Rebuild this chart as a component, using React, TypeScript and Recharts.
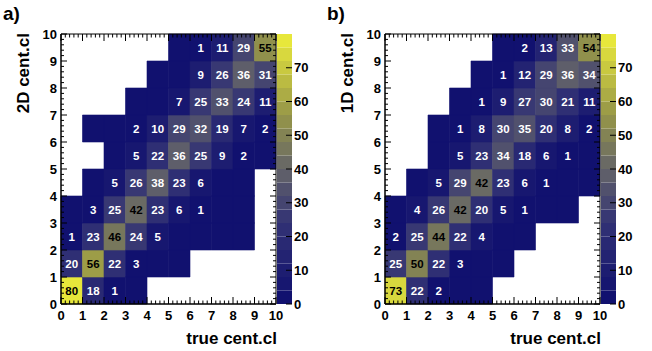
import React from 'react';
import { ScatterChart, Scatter, XAxis, YAxis, ReferenceArea, BarChart, Bar } from 'recharts';

// bin edges of both axes (centrality classes 0..10)
const centBins = [0, 1, 2, 3, 4, 5, 6, 7, 8, 9];
const axisLabels = [0, 1, 2, 3, 4, 5, 6, 7, 8, 9, 10];
const colorTicks = [0, 10, 20, 30, 40, 50, 60, 70];
const Z_MAX = 80;
const N_CONTOURS = 20;

// rows = reconstructed class (bottom to top), columns = true class.
// null = empty bin, 0 = filled bin whose content rounds to 0 (no text drawn)
const counts2D: (number | null)[][] = [
  [80, 18, 1, 0, null, null, null, null, null, null],
  [20, 56, 22, 3, 0, 0, null, null, null, null],
  [1, 23, 46, 24, 5, 0, 0, 0, 0, null],
  [0, 3, 25, 42, 23, 6, 1, 0, 0, null],
  [null, 0, 5, 26, 38, 23, 6, 0, 0, null],
  [null, null, 0, 5, 22, 36, 25, 9, 2, 0],
  [null, 0, 0, 2, 10, 29, 32, 19, 7, 2],
  [null, null, null, 0, 0, 7, 25, 33, 24, 11],
  [null, null, null, null, 0, 0, 9, 26, 36, 31],
  [null, null, null, null, null, 0, 1, 11, 29, 55],
];

const counts1D: (number | null)[][] = [
  [73, 22, 2, 0, 0, null, null, null, null, null],
  [25, 50, 22, 3, 0, 0, null, null, null, null],
  [2, 25, 44, 22, 4, 0, 0, null, null, null],
  [0, 4, 26, 42, 20, 5, 1, 0, 0, null],
  [null, 0, 5, 29, 42, 23, 6, 1, 0, 0],
  [null, null, 0, 5, 23, 34, 18, 6, 1, 0],
  [null, null, 0, 1, 8, 30, 35, 20, 8, 2],
  [null, null, null, 0, 1, 9, 27, 30, 21, 11],
  [null, null, null, null, 0, 1, 12, 29, 36, 34],
  [null, null, null, null, null, 0, 2, 13, 33, 54],
];

const FONT = '"Liberation Sans", Arial, Helvetica, sans-serif';
const PLOT_LEFT = 61;
const PLOT_TOP = 34;
const PLOT_W = 215;
const PLOT_H = 270;
const BAR_LEFT = PLOT_LEFT + PLOT_W + 1;
const CHART_W = BAR_LEFT + 14; // room for the "10" tick label
const CHART_H = 351;
const BAR_W = 15;

// navy -> grey -> yellow
const stops = [
  [0.0, 14, 14, 110],
  [0.3, 50, 50, 116],
  [0.5, 100, 100, 104],
  [0.7, 150, 150, 72],
  [1.0, 238, 238, 58],
];

function paletteAt(t: number) {
  for (let k = 1; k < stops.length; k++) {
    if (t <= stops[k][0]) {
      const a = stops[k - 1];
      const b = stops[k];
      const f = (t - a[0]) / (b[0] - a[0]);
      const c = [1, 2, 3].map((i) => Math.round(a[i] + f * (b[i] - a[i])));
      return `rgb(${c[0]},${c[1]},${c[2]})`;
    }
  }
  return 'rgb(238,238,58)';
}

function zColor(v: number) {
  const band = Math.min(N_CONTOURS - 1, Math.floor((v / Z_MAX) * N_CONTOURS));
  return paletteAt((band + 0.5) / N_CONTOURS);
}

const minorTicks = Array.from({ length: 51 }, (_, k) => k / 5);

function isMajor(v: number) {
  return Math.abs(v - Math.round(v)) < 1e-6;
}

function XTick(props: any) {
  const { x, y, payload } = props;
  const v = payload.value;
  const len = isMajor(v) ? 7 : 3.5;
  return (
    <g>
      <line x1={x} y1={y} x2={x} y2={y - len} stroke="#000" />
      <line x1={x} y1={PLOT_TOP} x2={x} y2={PLOT_TOP + len} stroke="#000" />
      {isMajor(v) && axisLabels.includes(Math.round(v)) && (
        <text x={x} y={y + 16} textAnchor="middle" fontFamily={FONT} fontWeight="bold" fontSize={13} fill="#000">
          {Math.round(v)}
        </text>
      )}
    </g>
  );
}

function YTick(props: any) {
  const { x, y, payload } = props;
  const v = payload.value;
  const len = isMajor(v) ? 6 : 3;
  const right = PLOT_LEFT + PLOT_W;
  return (
    <g>
      <line x1={x} y1={y} x2={x + len} y2={y} stroke="#000" />
      <line x1={right} y1={y} x2={right - len} y2={y} stroke="#000" />
      {isMajor(v) && (
        <text x={x - 4} y={y + 4.5} textAnchor="end" fontFamily={FONT} fontWeight="bold" fontSize={13} fill="#000">
          {Math.round(v)}
        </text>
      )}
    </g>
  );
}

function CellText(props: any) {
  const { cx, cy, payload } = props;
  if (!payload || payload.v < 1) return <g />;
  return (
    <text
      x={cx}
      y={cy}
      dy="0.36em"
      textAnchor="middle"
      fontFamily={FONT}
      fontWeight="bold"
      fontSize={11.5}
      fill={payload.v >= 40 ? '#000' : '#fff'}
    >
      {payload.v}
    </text>
  );
}

function Heatmap({ grid }: { grid: (number | null)[][] }) {
  const cells: { x: number; y: number; i: number; j: number; v: number }[] = [];
  grid.forEach((row, j) =>
    row.forEach((v, i) => {
      if (v !== null) cells.push({ x: centBins[i] + 0.5, y: centBins[j] + 0.5, i, j, v });
    })
  );
  return (
    <ScatterChart
      width={CHART_W}
      height={CHART_H}
      margin={{ top: PLOT_TOP, right: CHART_W - PLOT_LEFT - PLOT_W, bottom: 0, left: 0 }}
    >
      {cells.map((c) => (
        <ReferenceArea
          key={`${c.i}-${c.j}`}
          x1={centBins[c.i]}
          x2={centBins[c.i] + 1}
          y1={centBins[c.j]}
          y2={centBins[c.j] + 1}
          fill={zColor(c.v)}
          fillOpacity={1}
          stroke={zColor(c.v)}
          strokeWidth={0.6}
          ifOverflow="visible"
        />
      ))}
      <XAxis
        type="number"
        dataKey="x"
        domain={[0, 10]}
        allowDataOverflow
        ticks={minorTicks}
        interval={0}
        tickSize={0}
        tickMargin={0}
        tickLine={false}
        axisLine={{ stroke: '#000' }}
        height={CHART_H - PLOT_TOP - PLOT_H}
        tick={<XTick />}
      />
      <YAxis
        type="number"
        dataKey="y"
        domain={[0, 10]}
        allowDataOverflow
        ticks={minorTicks}
        interval={0}
        tickSize={0}
        tickMargin={0}
        tickLine={false}
        axisLine={{ stroke: '#000' }}
        width={PLOT_LEFT}
        tick={<YTick />}
      />
      <Scatter data={cells} isAnimationActive={false} shape={<CellText />} />
      <ReferenceArea x1={0} x2={10} y1={0} y2={10} fill="none" stroke="#000" strokeWidth={1} ifOverflow="visible" />
    </ScatterChart>
  );
}

function ColorTick(props: any) {
  const { x, y, payload } = props;
  return (
    <g>
      <line x1={x} y1={y} x2={x - 6} y2={y} stroke="#000" />
      <text x={x + 2} y={y + 4.5} textAnchor="start" fontFamily={FONT} fontWeight="bold" fontSize={13} fill="#000">
        {payload.value}
      </text>
    </g>
  );
}

function ColorBar() {
  const step = Z_MAX / N_CONTOURS;
  const row: Record<string, number | string> = { name: 'z' };
  for (let k = 0; k < N_CONTOURS; k++) row[`b${k}`] = step;
  return (
    <BarChart
      width={49}
      height={CHART_H}
      data={[row]}
      margin={{ top: PLOT_TOP, right: 0, bottom: CHART_H - PLOT_TOP - PLOT_H, left: 0 }}
      barCategoryGap={0}
      barGap={0}
    >
      <XAxis dataKey="name" hide />
      <YAxis
        orientation="right"
        type="number"
        domain={[0, Z_MAX]}
        ticks={colorTicks}
        interval={0}
        width={49 - BAR_W}
        tickSize={0}
        tickMargin={0}
        tickLine={false}
        axisLine={false}
        tick={<ColorTick />}
      />
      {Array.from({ length: N_CONTOURS }, (_, k) => (
        <Bar
          key={k}
          dataKey={`b${k}`}
          stackId="z"
          fill={paletteAt((k + 0.5) / N_CONTOURS)}
          isAnimationActive={false}
        />
      ))}
    </BarChart>
  );
}

function Panel({ grid, tag, yTitle, left }: { grid: (number | null)[][]; tag: string; yTitle: string; left: number }) {
  return (
    <div style={{ position: 'absolute', left, top: 0, width: 326, height: CHART_H }}>
      <div style={{ position: 'absolute', left: 0, top: 0 }}>
        <Heatmap grid={grid} />
      </div>
      <div style={{ position: 'absolute', left: BAR_LEFT, top: 0 }}>
        <ColorBar />
      </div>
      <svg
        width={326}
        height={CHART_H}
        style={{ position: 'absolute', left: 0, top: 0, pointerEvents: 'none' }}
      >
        <text x={3} y={20} fontFamily={FONT} fontWeight="bold" fontSize={19} fill="#000">
          {tag}
        </text>
        <text
          transform={`translate(29, ${PLOT_TOP - 1}) rotate(-90)`}
          textAnchor="end"
          fontFamily={FONT}
          fontWeight="bold"
          fontSize={17}
          fill="#000"
        >
          {yTitle}
        </text>
        <text
          x={PLOT_LEFT + PLOT_W + 1}
          y={344}
          textAnchor="end"
          fontFamily={FONT}
          fontWeight="bold"
          fontSize={17}
          fill="#000"
        >
          true cent.cl
        </text>
      </svg>
    </div>
  );
}

export default function App() {
  return (
    <div style={{ position: 'absolute', left: 0, top: 0, width: 652, height: 351, background: '#fff' }}>
      <Panel grid={counts2D} tag="a)" yTitle="2D cent.cl" left={0} />
      <Panel grid={counts1D} tag="b)" yTitle="1D cent.cl" left={324} />
    </div>
  );
}
